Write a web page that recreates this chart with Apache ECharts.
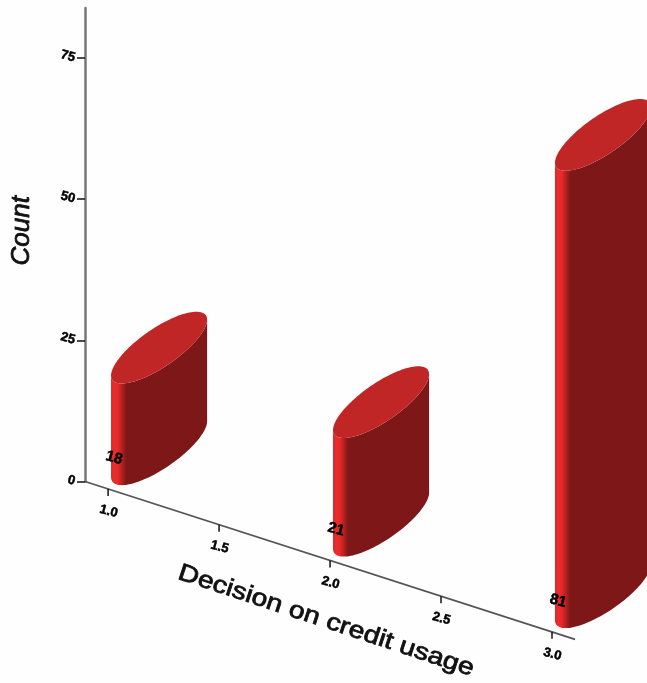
<!DOCTYPE html>
<html>
<head>
<meta charset="utf-8">
<style>html,body{margin:0;padding:0;background:#fefefe}#chart{width:647px;height:683px}</style>
<script src="https://cdn.jsdelivr.net/npm/echarts@6/dist/echarts.min.js"></script>
</head>
<body>
<div id="chart"></div>
<script>
// Decision on credit usage: counts per decision code
const decisions = [1, 2, 3];
const counts = [18, 21, 81];
const xTicks = [1, 1.5, 2, 2.5, 3];
const xTickLabels = ['1.0', '1.5', '2.0', '2.5', '3.0'];
const yTicks = [0, 25, 50, 75];

// Oblique floor: the x axis runs downhill to the right
const FLOOR_SLOPE = 0.322;
const CYL_RADIUS = 0.1;           // in x-axis units
const DEPTH_VEC = [42.6, -35.2];  // screen vector of one radius into the page
const CENTRE_OFFSET = [51, -39.7]; // cylinder centre relative to its axis position
const AXIS_LEFT = 85;
const FONT = '"Liberation Sans", Arial, sans-serif';

function floorPoint(api, x, y) {
  const p = api.coord([x, y]);
  return [p[0], p[1] + FLOOR_SLOPE * (p[0] - AXIS_LEFT)];
}

function tiltedText(text, x, y, size) {
  return {
    type: 'text', x, y, rotation: -0.26,
    style: { text, fill: '#000', stroke: '#000', lineWidth: 0.5, font: 'bold ' + size + 'px ' + FONT, align: 'center', verticalAlign: 'middle' }
  };
}

function renderCylinder(params, api) {
  const x = api.value(0), v = api.value(1);
  const base = floorPoint(api, x, 0);
  const top = floorPoint(api, x, v);
  const px = api.coord([x + CYL_RADIUS, 0])[0] - api.coord([x, 0])[0];
  const P = [px, px * FLOOR_SLOPE], Q = DEPTH_VEC;
  const dx = CENTRE_OFFSET[0], dy = CENTRE_OFFSET[1];
  const ring = (c, t) => [c[0] + dx + P[0] * Math.cos(t) + Q[0] * Math.sin(t),
                          c[1] + dy + P[1] * Math.cos(t) + Q[1] * Math.sin(t)];
  const tr = Math.atan2(Q[0], P[0]);
  const N = 60;
  const topRing = [], bodyPts = [];
  for (let i = 0; i < N * 2; i++) topRing.push(ring(top, tr + i * Math.PI / N));
  // Side wall: down the left silhouette, along the near base arc, back along the near top arc
  for (let i = 0; i <= N; i++) bodyPts.push(ring(base, tr - Math.PI + i * Math.PI / N));
  for (let i = 0; i <= N; i++) bodyPts.push(ring(top, tr - i * Math.PI / N));
  return {
    type: 'group',
    children: [
      {
        type: 'polygon', shape: { points: bodyPts },
        style: {
          fill: new echarts.graphic.LinearGradient(0, 0, 1, 0, [
            { offset: 0, color: '#d22a2a' },
            { offset: 0.03, color: '#ee2b2b' },
            { offset: 0.07, color: '#e62a2a' },
            { offset: 0.16, color: '#7e1717' },
            { offset: 1, color: '#7e1717' }
          ])
        }
      },
      { type: 'polygon', shape: { points: topRing }, style: { fill: '#c12626' } },
      tiltedText(String(v), base[0] + 6, base[1] - 31, 15)
    ]
  };
}

function renderXTick(params, api) {
  const x = api.value(0);
  const p = floorPoint(api, x, 0);
  const children = [
    { type: 'line', shape: { x1: p[0], y1: p[1], x2: p[0], y2: p[1] + 7 }, style: { stroke: '#111', lineWidth: 1.5 } },
    tiltedText(xTickLabels[params.dataIndex], p[0] + 0.5, p[1] + 22.5, 13)
  ];
  if (params.dataIndex === 0) {
    const a = floorPoint(api, api.value(1), 0), b = floorPoint(api, api.value(2), 0);
    children.unshift({ type: 'line', shape: { x1: a[0], y1: a[1], x2: b[0], y2: b[1] }, style: { stroke: '#555', lineWidth: 1.8 } });
  }
  return { type: 'group', children };
}

const X_MIN = 0.896, X_MAX = 3.428, X_LINE_END = 3.104;

const chart = echarts.init(document.getElementById('chart'), null, { renderer: 'canvas' });
chart.setOption({
  animation: false,
  backgroundColor: '#fefefe',
  grid: { left: AXIS_LEFT, right: 0, top: 8, bottom: 201.5, outerBoundsMode: 'none' },
  xAxis: { type: 'value', min: X_MIN, max: X_MAX, show: false },
  yAxis: {
    type: 'value', min: 0, max: 83.87, interval: yTicks[1] - yTicks[0],
    name: 'Count', nameLocation: 'middle', nameGap: 50, nameRotate: 90,
    nameTextStyle: { fontFamily: FONT, fontStyle: 'italic', fontSize: 26, color: '#111', textBorderColor: '#111', textBorderWidth: 0.8, padding: [0, 0, 0, 28] },
    splitLine: { show: false },
    axisLine: { show: true, lineStyle: { color: '#777', width: 2.5 } },
    axisTick: { show: true, length: 8, lineStyle: { color: '#111', width: 1.5 } },
    axisLabel: { fontFamily: FONT, fontWeight: 'bold', fontSize: 13, color: '#000', textBorderColor: '#000', textBorderWidth: 0.5, rotate: -15, margin: 10, showMaxLabel: false }
  },
  graphic: [{
    type: 'text', x: 326, y: 621, rotation: -0.32, scaleX: 1.18,
    style: { text: 'Decision on credit usage', font: '24px ' + FONT, fill: '#111', stroke: '#111', lineWidth: 0.8, align: 'center', verticalAlign: 'middle' }
  }],
  series: [
    {
      type: 'custom', renderItem: renderXTick, coordinateSystem: 'cartesian2d', silent: true,
      encode: { x: 0 },
      data: xTicks.map(t => [t, X_MIN, X_LINE_END])
    },
    {
      type: 'custom', renderItem: renderCylinder, coordinateSystem: 'cartesian2d',
      encode: { x: 0, y: 1 },
      data: decisions.map((d, i) => [d, counts[i]])
    }
  ]
});
</script>
</body>
</html>
